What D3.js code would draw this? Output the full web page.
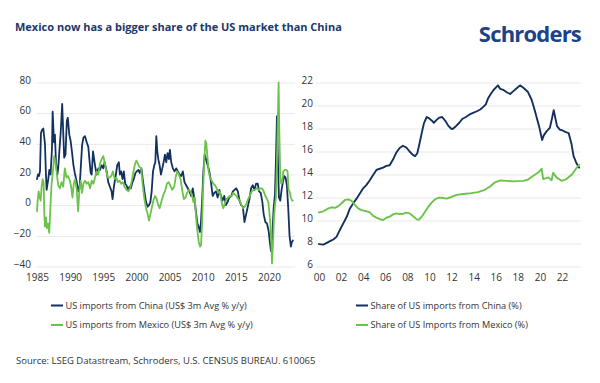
<!DOCTYPE html>
<html>
<head>
<meta charset="utf-8">
<script src="https://cdn.jsdelivr.net/npm/d3@7"></script>
<style>
  html, body { margin: 0; padding: 0; background: #fff; }
  svg { display: block; font-family: "Open Sans", "Noto Sans", sans-serif; }
</style>
</head>
<body>
<svg id="chart" width="600" height="383"></svg>
<script>
// ---------- DATA ----------
const leftXTicks = [1985, 1990, 1995, 2000, 2005, 2010, 2015, 2020];
const leftYTicks = [-40, -20, 0, 20, 40, 60, 80];
const rightXTicks = [2000, 2002, 2004, 2006, 2008, 2010, 2012, 2014, 2016, 2018, 2020, 2022];
const rightYTicks = [6, 8, 10, 12, 14, 16, 18, 20, 22];

// US imports from China, US$ 3m avg % y/y
const chinaGrowthDates = [1985.0,1985.15,1985.3,1985.45,1985.6,1985.75,1985.95,1986.2,1986.35,1986.45,1986.7,1986.86,1987.05,1987.26,1987.36,1987.56,1987.7,1987.86,1988.07,1988.2,1988.37,1988.57,1988.8,1988.97,1989.1,1989.3,1989.5,1989.65,1989.87,1990.07,1990.27,1990.5,1990.7,1991.0,1991.2,1991.45,1991.8,1992.0,1992.24,1992.5,1992.74,1992.9,1993.1,1993.25,1993.45,1993.75,1994.0,1994.25,1994.5,1994.75,1995.0,1995.2,1995.5,1995.75,1996.0,1996.25,1996.4,1996.6,1996.9,1997.1,1997.35,1997.5,1997.7,1997.9,1998.1,1998.3,1998.5,1998.75,1998.95,1999.15,1999.4,1999.6,1999.85,2000.05,2000.3,2000.5,2000.75,2000.95,2001.2,2001.45,2001.7,2001.9,2002.1,2002.3,2002.5,2002.7,2002.85,2003.0,2003.15,2003.3,2003.5,2003.7,2003.9,2004.1,2004.3,2004.5,2004.7,2004.9,2005.05,2005.25,2005.5,2005.75,2006.0,2006.25,2006.5,2006.75,2007.0,2007.25,2007.5,2007.75,2008.0,2008.25,2008.5,2008.75,2009.0,2009.2,2009.45,2009.6,2009.75,2009.9,2010.1,2010.3,2010.5,2010.75,2011.0,2011.25,2011.5,2011.75,2012.0,2012.25,2012.5,2012.75,2013.0,2013.25,2013.5,2013.75,2014.0,2014.3,2014.55,2014.8,2015.05,2015.3,2015.55,2015.8,2016.05,2016.3,2016.55,2016.8,2017.05,2017.3,2017.55,2017.8,2018.05,2018.3,2018.5,2018.75,2019.0,2019.2,2019.45,2019.7,2019.95,2020.15,2020.3,2020.5,2020.7,2020.9,2021.05,2021.2,2021.35,2021.5,2021.7,2021.9,2022.1,2022.3,2022.5,2022.7,2022.9,2023.1,2023.3,2023.45,2023.6];
const chinaGrowth = [17,20,19,22,47,49,50,40,20,10,17,23,20,37,61,41,46,28,20,24,35,47,66,46,31,33,55,57,46,42,35,26,21,15,9,13,39,44,45,41,38,30,21,20,35,26,20,24,23,26,24,28,22,15,12,9,4,12,20,26,28,20,22,17,22,14,13,10,12,11,15,17,21,22,23,21,24,17,9,2,-1,0,2,9,22,26,28,45,35,30,26,20,24,28,33,28,34,30,36,28,24,22,24,22,20,19,22,15,13,11,9,6,11,4,-5,-12,-15,-17.5,-10,2,22,33,30,26,22,15,6,8,9,5,10,6,3,6,0,2,5,6,9,10,11,9,3,0,-1,-11,-6,-1,4,11,13,10,14,14,9,8,2,-6,-11,-12,-17,-25,-30,-20,-2,7,30,58,28,5,3,10,15,19,18,13,-2,-20,-27,-24,-23];

// US imports from Mexico, US$ 3m avg % y/y
const mexicoGrowthDates = [1985.0,1985.1,1985.25,1985.4,1985.55,1985.7,1985.85,1986.0,1986.1,1986.2,1986.35,1986.5,1986.65,1986.85,1987.0,1987.2,1987.4,1987.6,1987.8,1988.0,1988.2,1988.45,1988.7,1988.95,1989.2,1989.45,1989.7,1989.95,1990.15,1990.35,1990.55,1990.75,1991.0,1991.2,1991.4,1991.6,1991.8,1992.0,1992.25,1992.5,1992.75,1993.0,1993.25,1993.5,1993.75,1994.0,1994.25,1994.5,1994.75,1995.0,1995.2,1995.45,1995.7,1995.95,1996.2,1996.45,1996.7,1996.95,1997.2,1997.45,1997.7,1997.95,1998.2,1998.5,1998.8,1999.1,1999.35,1999.55,1999.8,2000.0,2000.2,2000.45,2000.7,2000.95,2001.2,2001.45,2001.65,2001.9,2002.1,2002.35,2002.55,2002.8,2003.05,2003.3,2003.5,2003.75,2004.0,2004.3,2004.6,2004.85,2005.1,2005.4,2005.7,2005.95,2006.15,2006.4,2006.65,2006.9,2007.15,2007.4,2007.65,2007.9,2008.15,2008.4,2008.6,2008.8,2009.0,2009.2,2009.4,2009.6,2009.75,2009.9,2010.05,2010.25,2010.4,2010.55,2010.7,2010.9,2011.1,2011.35,2011.6,2011.85,2012.1,2012.35,2012.6,2012.85,2013.1,2013.35,2013.6,2013.85,2014.1,2014.4,2014.6,2014.85,2015.1,2015.35,2015.6,2015.85,2016.1,2016.35,2016.6,2016.85,2017.1,2017.4,2017.65,2017.9,2018.15,2018.45,2018.7,2018.95,2019.2,2019.45,2019.7,2019.9,2020.05,2020.2,2020.35,2020.45,2020.6,2020.75,2020.9,2021.05,2021.2,2021.35,2021.45,2021.55,2021.7,2021.85,2022.0,2022.15,2022.4,2022.65,2022.8,2022.95,2023.1,2023.3,2023.5,2023.6];
const mexicoGrowth = [-4,3,9,5,3,12,17,15,-5,-14,-8,-15,-12,-18,-3,14,22,32,28,20,13,11,15,12,24,18,19,16,12,5,14,17,10,-4,10,16,8,14,16,14,15,11,16,14,18,22,20,27,30,32,28,22,18,18,19,22,17,18,15,16,14,15,12,10,9,12,17,22,27,29,27,25,24,13,4,-2,-5,-10,-6,-1,3,6,4,0,-2,2,6,9,14,15,13,10,12,19,22,20,17,10,4,5,8,10,9,6,2,5,-8,-17,-24,-27,-26,-12,10,30,42,40,32,22,18,16,14,13,11,8,9,2,-2,1,4,5,6,6,8,7,6,4,3,0,-2,-1,1,4,6,9,10,10,11,10,11,11,9,6,4,2,-4,-12,-25,-38,-25,-8,0,5,30,60,80,50,18,14,15,22,23,23,22,10,9,5,3,3];

// Share of US imports from China (%)
const chinaShareDates = [2000.0,2000.4,2000.7,2001.0,2001.3,2001.6,2001.9,2002.2,2002.5,2002.8,2003.1,2003.4,2003.7,2004.0,2004.3,2004.6,2004.9,2005.2,2005.5,2005.8,2006.1,2006.4,2006.7,2007.0,2007.3,2007.6,2007.9,2008.2,2008.5,2008.7,2008.9,2009.1,2009.3,2009.5,2009.75,2009.95,2010.2,2010.4,2010.65,2010.9,2011.15,2011.45,2011.7,2011.95,2012.1,2012.4,2012.7,2013.0,2013.3,2013.6,2013.95,2014.3,2014.6,2014.9,2015.1,2015.3,2015.55,2015.8,2016.05,2016.2,2016.4,2016.7,2017.0,2017.3,2017.6,2017.9,2018.2,2018.5,2018.9,2019.25,2019.5,2019.75,2019.95,2020.2,2020.35,2020.6,2020.9,2021.1,2021.25,2021.4,2021.55,2021.8,2022.0,2022.3,2022.6,2022.85,2023.05,2023.3,2023.55];
const chinaShare = [7.95,7.9,8.05,8.2,8.35,8.6,9.2,9.75,10.3,11.05,11.5,11.9,12.35,12.8,13.1,13.5,13.95,14.4,14.5,14.6,14.75,14.8,15.3,15.9,16.3,16.5,16.35,16.0,15.7,15.6,15.85,16.7,17.6,18.45,19.0,18.9,18.7,18.5,18.75,18.95,19.0,18.65,18.25,18.0,17.95,18.2,18.5,18.85,19.0,19.2,19.35,19.5,19.65,19.9,20.1,20.6,21.0,21.35,21.6,21.75,21.45,21.35,21.15,21.0,21.25,21.5,21.75,21.55,21.2,20.5,19.7,18.8,18.1,17.0,17.4,17.75,18.05,18.9,19.6,18.9,18.2,17.9,17.85,17.7,17.6,16.7,15.6,15.0,14.6];

// Share of US imports from Mexico (%)
const mexicoShareDates = [2000.0,2000.4,2000.85,2001.15,2001.45,2001.75,2002.05,2002.35,2002.65,2002.95,2003.25,2003.55,2003.85,2004.3,2004.6,2004.9,2005.2,2005.5,2005.8,2006.1,2006.4,2006.7,2007.0,2007.3,2007.6,2007.9,2008.2,2008.5,2008.85,2009.05,2009.3,2009.6,2009.9,2010.2,2010.5,2010.8,2011.1,2011.55,2011.86,2012.46,2013.06,2013.8,2014.4,2015.0,2015.5,2015.9,2016.4,2017.0,2017.6,2018.5,2018.9,2019.4,2019.85,2020.15,2020.3,2020.75,2021.06,2021.2,2021.5,2021.96,2022.4,2022.9,2023.3,2023.55];
const mexicoShare = [10.7,10.8,11.05,11.15,11.1,11.25,11.5,11.78,11.84,11.7,11.35,11.05,10.9,10.8,10.7,10.4,10.25,10.12,10.04,10.24,10.33,10.53,10.62,10.56,10.58,10.68,10.62,10.39,10.1,10.07,10.33,10.76,11.2,11.55,11.84,11.98,11.98,11.9,12.0,12.23,12.3,12.38,12.47,12.67,12.96,13.3,13.48,13.45,13.4,13.45,13.55,13.89,14.17,14.5,13.6,13.75,13.5,14.15,13.75,13.45,13.6,14.0,14.55,14.85];

const titleText = "Mexico now has a bigger share of the US market than China";
const leftLegend = ["US imports from China (US$ 3m Avg % y/y)", "US imports from Mexico (US$ 3m Avg % y/y)"];
const rightLegend = ["Share of US imports from China (%)", "Share of US Imports from Mexico (%)"];
const sourceText = "Source: LSEG Datastream, Schroders, U.S. CENSUS BUREAU. 610065";

// ---------- STYLE ----------
const NAVY = "#13315f";
const GREEN = "#6cc24a";
const GRID = "#e9e9e9";
const TXT = "#333333";

const svg = d3.select("#chart");

// Title & logo
svg.append("text").attr("x", 15).attr("y", 31)
  .attr("font-size", 11).attr("font-weight", 700).attr("fill", "#1c3768")
  .text(titleText);
svg.append("text").attr("x", 581).attr("y", 42).attr("text-anchor", "end")
  .attr("font-size", 22).attr("font-weight", 700).attr("fill", "#1b4389")
  .attr("letter-spacing", -0.8)
  .text("Schroders");

function panel(cfg) {
  const g = svg.append("g");
  const x = d3.scaleLinear().domain(cfg.xDomain).range(cfg.xRange);
  const y = d3.scaleLinear().domain(cfg.yDomain).range([266.5, 82.5]);

  const ya = g.append("g").attr("transform", `translate(${cfg.gridX0},0)`)
    .call(d3.axisLeft(y).tickValues(cfg.yTicks).tickSize(-(cfg.gridX1 - cfg.gridX0)).tickPadding(cfg.yPad));
  ya.select(".domain").remove();
  ya.selectAll(".tick line").attr("stroke", GRID).attr("stroke-width", 1);
  ya.selectAll(".tick text").attr("fill", TXT).attr("font-size", 10).attr("dy", "0.05em")
    .attr("font-family", "'Open Sans', 'Noto Sans', sans-serif");

  const xa = g.append("g").attr("transform", `translate(0,274)`)
    .call(d3.axisBottom(x).tickValues(cfg.xTicks).tickSize(0).tickPadding(0).tickFormat(cfg.xFmt));
  xa.select(".domain").remove();
  xa.selectAll(".tick text").attr("fill", TXT).attr("font-size", 10).attr("dy", "0.72em")
    .attr("font-family", "'Open Sans', 'Noto Sans', sans-serif");

  const line = d3.line().x(d => x(d[0])).y(d => y(d[1])).curve(d3.curveLinear);
  cfg.series.forEach(s => {
    g.append("path").datum(d3.zip(s.dates, s.values))
      .attr("fill", "none").attr("stroke", s.color).attr("stroke-width", cfg.sw)
      .attr("stroke-linejoin", "round").attr("stroke-linecap", "round")
      .attr("d", line);
  });

  cfg.legend.forEach((t, i) => {
    const ly = 305.5 + i * 19.5;
    g.append("line").attr("x1", cfg.legX).attr("x2", cfg.legX + 12).attr("y1", ly).attr("y2", ly)
      .attr("stroke", cfg.series[i].color).attr("stroke-width", 2);
    g.append("text").attr("x", cfg.legX + 14.5).attr("y", ly).attr("dy", "0.35em")
      .attr("font-size", 9.2).attr("fill", TXT).text(t);
  });
}

panel({
  xDomain: [1985, 2020], xRange: [37, 269], yDomain: [-40, 80],
  gridX0: 36, gridX1: 295, yPad: 5, yTicks: leftYTicks, xTicks: leftXTicks,
  xFmt: d3.format("d"), sw: 1.8,
  series: [
    {dates: chinaGrowthDates, values: chinaGrowth, color: NAVY},
    {dates: mexicoGrowthDates, values: mexicoGrowth, color: GREEN}
  ],
  legend: leftLegend, legX: 51
});

panel({
  xDomain: [2000, 2022], xRange: [319, 562], yDomain: [6, 22],
  gridX0: 316, gridX1: 581, yPad: 3, yTicks: rightYTicks, xTicks: rightXTicks,
  xFmt: d => String(d % 100).padStart(2, "0"), sw: 1.9,
  series: [
    {dates: chinaShareDates, values: chinaShare, color: NAVY},
    {dates: mexicoShareDates, values: mexicoShare, color: GREEN}
  ],
  legend: rightLegend, legX: 356
});

svg.append("text").attr("x", 16).attr("y", 364)
  .attr("font-size", 9.5).attr("fill", TXT).text(sourceText);
</script>
</body>
</html>
